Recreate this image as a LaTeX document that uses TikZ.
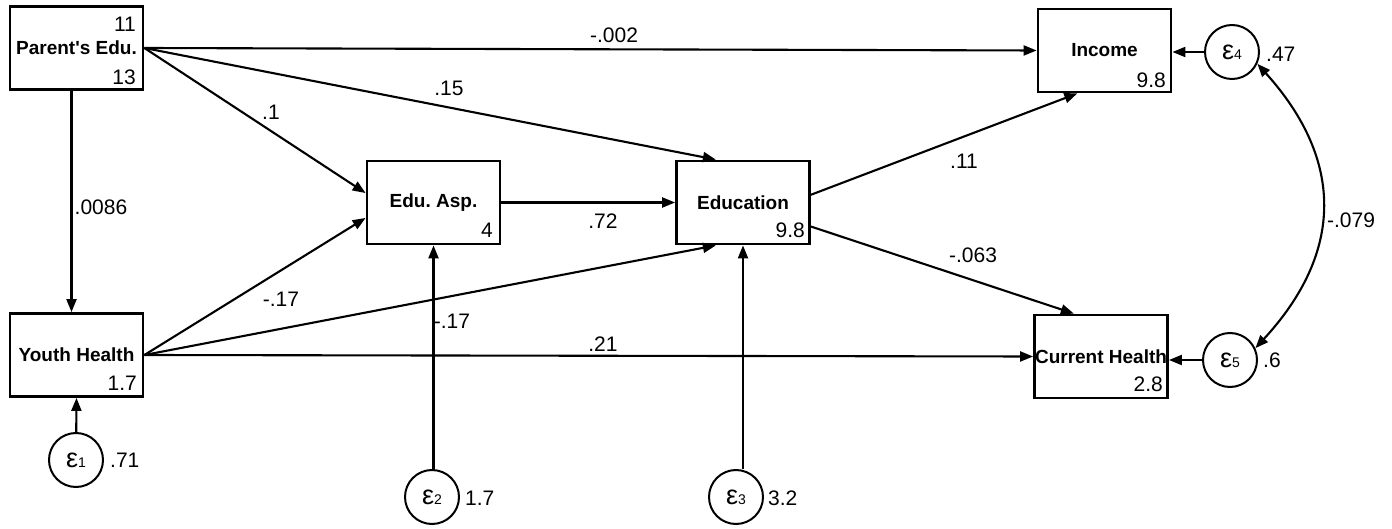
\documentclass[tikz,border=0pt]{standalone}
\usepackage{fontspec}
\setmainfont{Liberation Sans}
\usetikzlibrary{arrows.meta,calc}
\frenchspacing
\newcommand\epsub[1]{{\fontsize{27}{27}\selectfont ε}{\fontsize{14}{14}\selectfont #1}}
\begin{document}
\begin{tikzpicture}[x=1pt,y=-1pt,
  box/.style={draw, line width=2.8pt, minimum width=133pt, minimum height=83pt, inner sep=0pt, font=\bfseries\fontsize{19}{19}\selectfont},
  err/.style={draw, circle, line width=2pt, minimum size=54pt, inner sep=0pt},
  num/.style={inner sep=0pt, font=\fontsize{21}{21}\selectfont},
  tip/.style={-{Triangle[length=13pt,width=10pt]}},
  conn/.style={line width=2.1pt, tip},
  cov/.style={line width=2.1pt, {Triangle[length=13pt,width=10pt]}-{Triangle[length=13pt,width=10pt]}}
  ]
\useasboundingbox (0,0) rectangle (1392,529);
% boxes
\node[box] (par) at (76.5,48) {Parent\textquotesingle s Edu.};
\node[box] (yh) at (76.5,355) {Youth Health};
\node[box] (asp) at (433.5,202.5) {Edu. Asp.};
\node[box] (edu) at (743,202.5) {Education};
\node[box] (inc) at (1104.5,50.5) {Income};
\node[box] (ch) at (1101,356.5) {Current Health};
% error terms
\node[err] (e1) at (76,460) {\epsub{1}};
\node[err] (e2) at (432,497) {\epsub{2}};
\node[err] (e3) at (736,497) {\epsub{3}};
\node[err] (e4) at (1232,52) {\epsub{4}};
\node[err] (e5) at (1230,360) {\epsub{5}};
% box numbers
\node[num, anchor=east] (n1) at (136,24) {11};
\node[num, anchor=east] (n2) at (136,77.5) {13};
\node[num, anchor=east] (n3) at (137,383.5) {1.7};
\node[num, anchor=east] (n4) at (493,230.5) {4};
\node[num, anchor=east] (n5) at (805,230.5) {9.8};
\node[num, anchor=east] (n6) at (1166,80) {9.8};
\node[num, anchor=east] (n7) at (1163,384.5) {2.8};
% variances
\node[num, anchor=west] (v1) at (110,460) {.71};
\node[num, anchor=west] (v2) at (465,498.5) {1.7};
\node[num, anchor=west] (v3) at (768,498.5) {3.2};
\node[num, anchor=west] (v4) at (1266,54.5) {.47};
\node[num, anchor=west] (v5) at (1263,360.5) {.6};
% edge labels
\node[num] (l1) at (614,35) {-.002};
\node[num] (l2) at (271,112) {.1};
\node[num] (l3) at (449,88) {.15};
\node[num] (l4) at (101,207) {.0086};
\node[num] (l5) at (281,299) {-.17};
\node[num] (l6) at (452,321) {-.17};
\node[num] (l7) at (603,344) {.21};
\node[num] (l8) at (603,221) {.72};
\node[num] (l9) at (964,161) {.11};
\node[num] (l10) at (973,255) {-.063};
\node[num] (l11) at (1351,220) {-.079};
% paths
\draw[conn] (par.east) -- (inc.west);
\draw[conn] (par.east) -- ($(edu.north west)!0.3!(edu.north east)$);
\draw[conn] (par.east) -- ($(asp.north west)!0.39!(asp.south west)$);
\draw[conn] ([xshift=-5pt]par.south) -- ([xshift=-5pt]yh.north);
\draw[conn] (yh.east) -- ($(asp.north west)!0.68!(asp.south west)$);
\draw[conn] (yh.east) -- ($(edu.south west)!0.3!(edu.south east)$);
\draw[conn] (yh.east) -- (ch.west);
\draw[conn] (asp.east) -- (edu.west);
\draw[conn] ($(edu.north east)!0.41!(edu.south east)$) -- ($(inc.south west)!0.3!(inc.south east)$);
\draw[conn] ($(edu.north east)!0.78!(edu.south east)$) -- ($(ch.north west)!0.3!(ch.north east)$);
\draw[conn] (e1) -- (yh.south);
\draw[conn] (e2.north -| asp.south) -- (asp.south);
\draw[conn] (e3.north -| edu.south) -- (edu.south);
\draw[conn] (e4.west) -- (e4.west -| inc.east);
\draw[conn] (e5.west) -- (e5.west -| ch.east);
\draw[cov] (e4.-25) .. controls (1344,160) and (1344,252) .. (e5.25);
\end{tikzpicture}
\end{document}
